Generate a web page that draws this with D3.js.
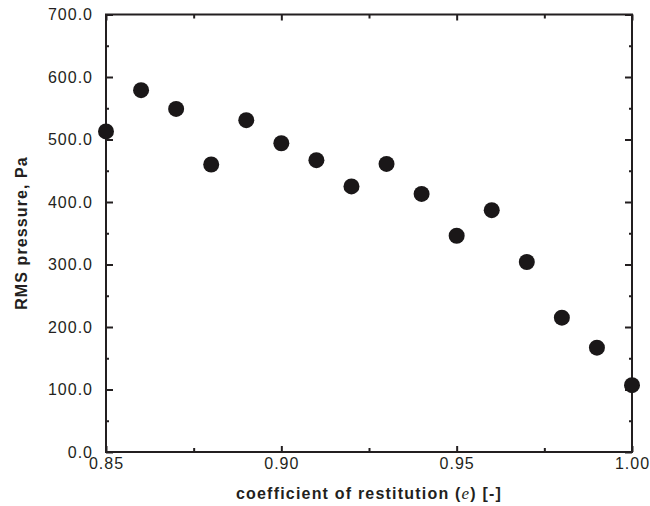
<!doctype html>
<html lang="en">
<head>
  <meta charset="utf-8">
  <script src="https://d3js.org/d3.v7.min.js"></script>
  <style>
    body { margin: 0; background: #fff; }
    text { font-family: "Liberation Sans", Arial, sans-serif; fill: #231f20; }
  </style>
</head>
<body>
  <script>
    // coefficient of restitution
    var restitution = [0.85, 0.86, 0.87, 0.88, 0.89, 0.90, 0.91, 0.92,
                       0.93, 0.94, 0.95, 0.96, 0.97, 0.98, 0.99, 1.00];
    // RMS pressure, Pa
    var rmsPressure = [513, 579, 549, 460, 531, 494, 467, 425,
                       461, 413, 346, 387, 304, 215, 167, 107];
    var xMajor = [0.85, 0.90, 0.95, 1.00];
    var xMinor = [0.875, 0.925, 0.975];
    var yMajor = [0, 100, 200, 300, 400, 500, 600, 700];
    var yMinor = [50, 150, 250, 350, 450, 550, 650];

    var width = 650, height = 506;
    var margin = {top: 14.5, right: 18, bottom: 54, left: 106};
    var ink = "#231f20";

    var svg = d3.select("body").append("svg")
        .attr("width", width)
        .attr("height", height);

    var x = d3.scaleLinear().domain([0.85, 1.00]).range([margin.left, width - margin.right]);
    var y = d3.scaleLinear().domain([0, 700]).range([height - margin.bottom, margin.top]);

    function style(g) {
      g.select(".domain").remove();
      g.selectAll("line").attr("stroke", ink).attr("stroke-width", 2);
      g.selectAll("text").style("font-size", "16px").style("letter-spacing", "1px")
        .style("font-family", "'Liberation Sans', Arial, sans-serif").attr("fill", ink);
    }

    // bottom
    svg.append("g").attr("transform", "translate(0," + y(0) + ")")
      .call(d3.axisBottom(x).tickValues(xMajor).tickSize(-6).tickPadding(6).tickFormat(d3.format(".2f")))
      .call(style);
    svg.append("g").attr("transform", "translate(0," + y(0) + ")")
      .call(d3.axisBottom(x).tickValues(xMinor).tickSize(-4).tickFormat(""))
      .call(style);
    // top
    svg.append("g").attr("transform", "translate(0," + y(700) + ")")
      .call(d3.axisTop(x).tickValues(xMajor).tickSize(-6).tickFormat(""))
      .call(style);
    svg.append("g").attr("transform", "translate(0," + y(700) + ")")
      .call(d3.axisTop(x).tickValues(xMinor).tickSize(-4).tickFormat(""))
      .call(style);
    // left
    svg.append("g").attr("transform", "translate(" + x(0.85) + ",0)")
      .call(d3.axisLeft(y).tickValues(yMajor).tickSize(-7).tickPadding(13).tickFormat(d3.format(".1f")))
      .call(style);
    svg.append("g").attr("transform", "translate(" + x(0.85) + ",0)")
      .call(d3.axisLeft(y).tickValues(yMinor).tickSize(-3).tickFormat(""))
      .call(style);
    // right
    svg.append("g").attr("transform", "translate(" + x(1.00) + ",0)")
      .call(d3.axisRight(y).tickValues(yMajor).tickSize(-7).tickFormat(""))
      .call(style);
    svg.append("g").attr("transform", "translate(" + x(1.00) + ",0)")
      .call(d3.axisRight(y).tickValues(yMinor).tickSize(-3).tickFormat(""))
      .call(style);

    // frame
    svg.append("rect")
      .attr("x", x(0.85)).attr("y", y(700))
      .attr("width", x(1.00) - x(0.85)).attr("height", y(0) - y(700))
      .attr("fill", "none").attr("stroke", ink).attr("stroke-width", 2);

    // points
    svg.selectAll("circle.pt")
      .data(restitution)
      .enter().append("circle")
        .attr("class", "pt")
        .attr("cx", function(d) { return x(d); })
        .attr("cy", function(d, i) { return y(rmsPressure[i]); })
        .attr("r", 8)
        .attr("fill", "#1a1718");

    // axis titles
    var xt = svg.append("text")
      .attr("x", (x(0.85) + x(1.00)) / 2)
      .attr("y", 499)
      .attr("text-anchor", "middle")
      .style("font-size", "16px")
      .style("font-weight", "bold")
      .style("letter-spacing", "1.2px");
    xt.append("tspan").text("coefficient of restitution (");
    xt.append("tspan").text("e").style("font-family", "'Liberation Serif', serif")
      .style("font-style", "italic").style("font-weight", "normal").style("font-size", "17px");
    xt.append("tspan").text(") [-]");

    svg.append("text")
      .attr("transform", "translate(27," + 233 + ") rotate(-90)")
      .attr("text-anchor", "middle")
      .style("font-size", "16px")
      .style("font-weight", "bold")
      .style("letter-spacing", "1.1px")
      .text("RMS pressure, Pa");
  </script>
</body>
</html>
